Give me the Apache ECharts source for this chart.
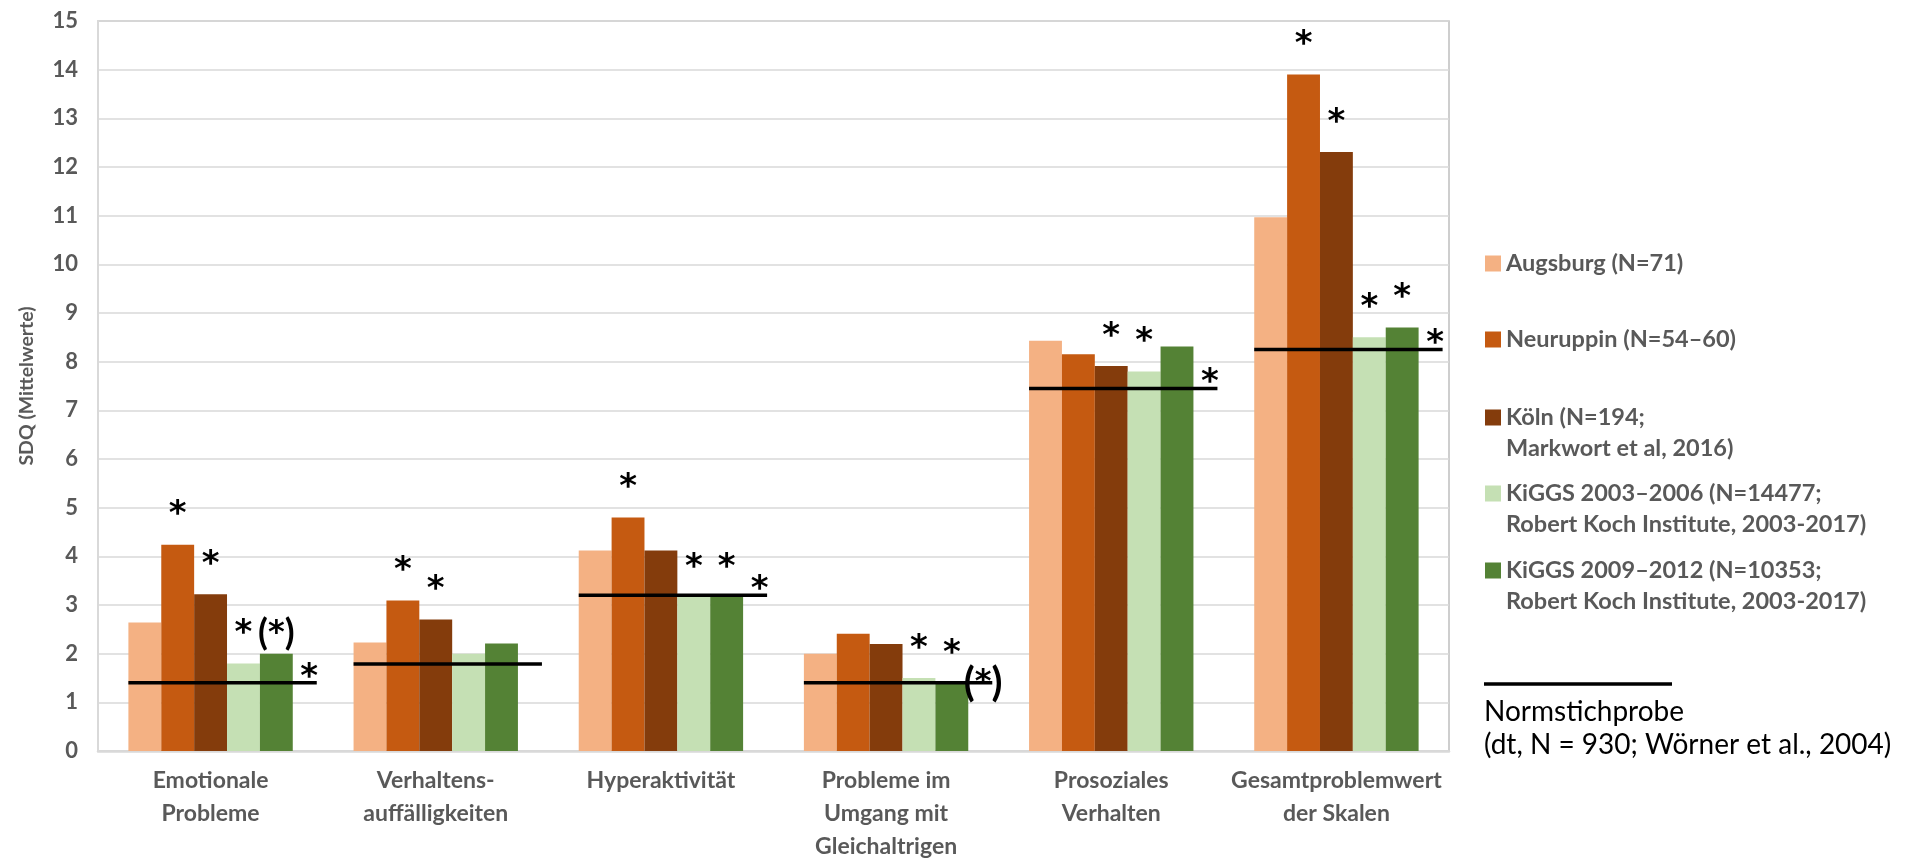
<!DOCTYPE html>
<html><head><meta charset="utf-8">
<script src="https://cdn.jsdelivr.net/npm/echarts@6/dist/echarts.min.js"></script>
<style>html,body{margin:0;padding:0;background:#fff}#chart{width:1914px;height:863px}</style>
</head><body><div id="chart"></div>
<script>
// ---- data ----
const categories = ['Emotionale\nProbleme', 'Verhaltens-\nauffälligkeiten', 'Hyperaktivität',
  'Probleme im\nUmgang mit\nGleichaltrigen', 'Prosoziales\nVerhalten', 'Gesamtproblemwert\nder Skalen'];
const seriesNames = ['Augsburg (N=71)', 'Neuruppin (N=54–60)', 'Köln (N=194;\nMarkwort et al, 2016)',
  'KiGGS 2003–2006 (N=14477;\nRobert Koch Institute, 2003-2017)',
  'KiGGS 2009–2012 (N=10353;\nRobert Koch Institute, 2003-2017)'];
const augsburg  = [2.64, 2.23, 4.12, 2.0, 8.43, 10.97];
const neuruppin = [4.24, 3.09, 4.80, 2.41, 8.15, 13.9];
const koeln     = [3.22, 2.70, 4.12, 2.20, 7.91, 12.31];
const kiggs1    = [1.80, 2.00, 3.17, 1.50, 7.80, 8.50];
const kiggs2    = [2.00, 2.21, 3.17, 1.40, 8.31, 8.70];
const norm      = [1.40, 1.79, 3.20, 1.40, 7.45, 8.25];
const normName  = 'Normstichprobe\n(dt, N = 930; Wörner et al., 2004)';
// significance markers
const sigAugsburg  = ['', '', '', '', '', ''];
const sigNeuruppin = ['*', '*', '*', '', '', '*'];
const sigKoeln     = ['*', '*', '', '', '*', '*'];
const sigKiggs1    = ['*', '', '*', '*', '*', '*'];
const sigKiggs2    = ['(*)', '', '*', '*', '', '*'];
const sigNorm      = ['*', '', '*', '(*)', '*', '*'];
const yTicks = [0, 15, 1]; // min, max, interval

// ---- styling ----
const colors = ['#F4B183', '#C55A11', '#843C0C', '#C5E0B4', '#548235'];
const values = [augsburg, neuruppin, koeln, kiggs1, kiggs2];
const sigs = [sigAugsburg, sigNeuruppin, sigKoeln, sigKiggs1, sigKiggs2];
const FONT = 'Lato';
const STAR_FONT = 'DejaVu Sans';
const GRAY = '#595959';
const CAT_GAP = 0.27;

function sigRich(t) {
  if (!t) return '';
  if (t === '*') return '{s|*}';
  return '{pa|(}{st|*}{pa|)}';
}
function richStyles(parenSize, starSize, starPad) {
  return {
    s: {fontFamily: STAR_FONT, fontWeight: 'bold', fontSize: starSize, color: '#000', padding: [0, 0, starPad, 0]},
    st: {fontFamily: STAR_FONT, fontWeight: 'bold', fontSize: starSize - 2, color: '#000'},
    pa: {fontFamily: FONT, fontWeight: 'bold', fontSize: parenSize, color: '#000'}
  };
}

const chart = echarts.init(document.getElementById('chart'), null, {renderer: 'canvas'});

const barSeries = seriesNames.map((name, i) => ({
  type: 'bar', name, data: values[i],
  barGap: '0%', barCategoryGap: (CAT_GAP * 100) + '%',
  itemStyle: {color: colors[i]},
  z: 2,
  label: {
    show: true, position: 'top', distance: 2, color: '#000',
    formatter: p => sigRich(sigs[p.seriesIndex][p.dataIndex]),
    rich: richStyles(36, 34, 10)
  }
}));

const normSeries = {
  type: 'custom', name: normName,
  data: norm.map((v, i) => [i, v]),
  encode: {x: 0, y: 1},
  z: 5,
  renderItem: (params, api) => {
    const c = api.coord([api.value(0), api.value(1)]);
    const band = api.size([1, 0])[0];
    const groupW = band * (1 - CAT_GAP);
    const barW = groupW / 5;
    const x0 = c[0] - groupW / 2;
    const x1 = c[0] + groupW / 2 + barW * 0.73;
    const children = [{
      type: 'line',
      shape: {x1: x0, y1: c[1], x2: x1, y2: c[1]},
      style: {stroke: '#000', lineWidth: 3.5}
    }];
    const t = sigNorm[params.dataIndex];
    if (t) {
      const big = t !== '*';
      children.push({
        type: 'text',
        style: {
          text: sigRich(t), rich: richStyles(40, 34, 0),
          x: c[0] + groupW / 2 + barW * (big ? 0.45 : 0.5),
          y: big ? c[1] : c[1] - 5,
          align: 'center', verticalAlign: 'middle'
        }
      });
    }
    return {type: 'group', children};
  }
};

const legendCenters = [267, 343, 421, 497, 574];
const LH = 31;
const legends = seriesNames.map((n, i) => {
  const lines = n.split('\n');
  const two = lines.length > 1;
  const h = two ? 47 : 16;
  return {
    data: [n],
    orient: 'vertical', left: 1485, top: legendCenters[i] - 15.5,
    padding: 0, itemWidth: 16, itemHeight: h,
    icon: two ? 'path://M0,0h16v16h-16z M0,46.99h0.01v0.01h-0.01z' : 'rect',
    selectedMode: false,
    formatter: name => name.split('\n').map(l => '{a|' + l + '}').join('\n'),
    textStyle: {
      color: GRAY, fontSize: 23.5, fontFamily: FONT, fontWeight: 'bold',
      rich: {a: {color: GRAY, fontSize: 23.5, fontFamily: FONT, fontWeight: 'bold', lineHeight: LH}}
    }
  };
});

chart.setOption({
  animation: false,
  textStyle: {fontFamily: FONT},
  grid: {left: 98, right: 465, top: 21, bottom: 110, show: true, borderColor: '#bfbfbf', borderWidth: 1.5, backgroundColor: 'transparent'},
  legend: legends,
  xAxis: {
    type: 'category', data: categories,
    axisLine: {lineStyle: {color: '#d9d9d9', width: 2.5}},
    axisTick: {show: false},
    axisLabel: {color: GRAY, fontSize: 23, fontWeight: 'bold', lineHeight: 33, margin: 13, interval: 0}
  },
  yAxis: {
    type: 'value', min: yTicks[0], max: yTicks[1], interval: yTicks[2],
    name: 'SDQ (Mittelwerte)', nameLocation: 'middle', nameGap: 61,
    nameTextStyle: {color: GRAY, fontSize: 19.5, fontWeight: 'bold'},
    axisLine: {show: true, lineStyle: {color: '#d9d9d9', width: 2}},
    axisTick: {show: false},
    splitLine: {lineStyle: {color: '#d9d9d9', width: 1.5}},
    axisLabel: {color: GRAY, fontSize: 22, fontWeight: 'bold', margin: 20}
  },
  graphic: [
    {type: 'line', shape: {x1: 1484, y1: 684, x2: 1672, y2: 684}, style: {stroke: '#000', lineWidth: 3.5}},
    {type: 'text', left: 1484, top: 695, style: {text: normName, fill: '#000', fontFamily: FONT, fontSize: 28, lineHeight: 33}}
  ],
  series: [...barSeries, normSeries]
});
</script></body></html>
